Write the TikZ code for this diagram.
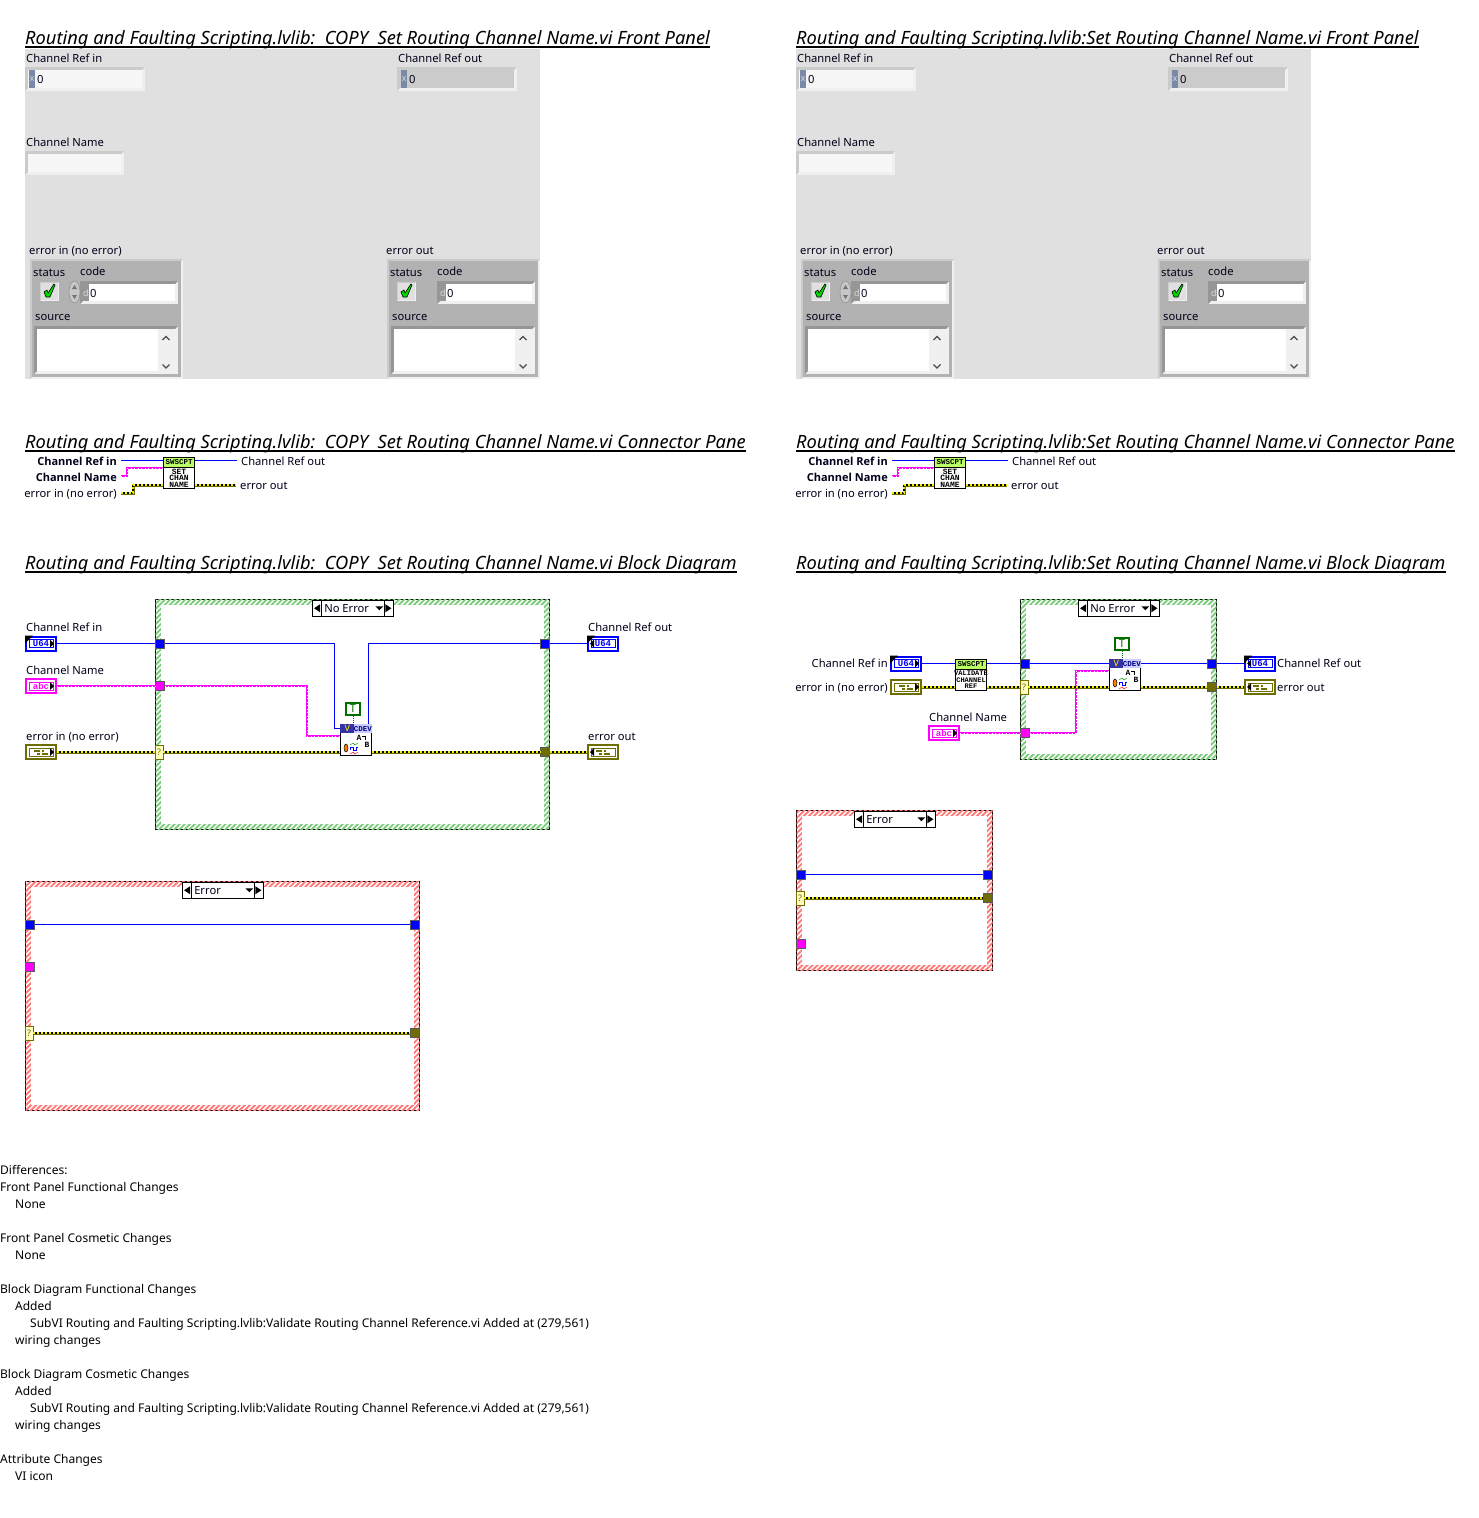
\documentclass[tikz,border=0pt]{standalone}
\usepackage{fontspec}
\setmainfont{Noto Sans}
\newfontfamily\iconfont{Liberation Mono}
\newfontfamily\paneboldfont{Open Sans}
\usetikzlibrary{positioning, fit, patterns.meta}

\definecolor{panelgray}{HTML}{E0E0E0}
\definecolor{panelhi}{HTML}{F0F0F0}
\definecolor{paneledge}{HTML}{CBCBCB}
\definecolor{clustergray}{HTML}{B2B2B2}
\definecolor{clusteredge}{HTML}{969696}
\definecolor{radixblue}{HTML}{7A89A8}
\definecolor{wireblue}{HTML}{0000FF}
\definecolor{wirepink}{HTML}{FF00FF}
\definecolor{errolive}{HTML}{6E6E00}
\definecolor{erryellow}{HTML}{F0F000}
\definecolor{casegreen}{HTML}{7CCB7C}
\definecolor{casered}{HTML}{FF7878}
\definecolor{constgreen}{HTML}{006F00}

% sunken frame: x1,y1,x2,y2, depth, edge colour, face colour
\newcommand{\sunkbox}[7]{%
  \fill[panelhi] (#1,#2) rectangle (#3,#4);
  \fill[#6] (#1,#2) -- (#3,#2) -- ([shift={(-#5,#5)}]#3,#2) -- ([shift={(#5,#5)}]#1,#2)
    -- ([shift={(#5,-#5)}]#1,#4) -- (#1,#4) -- cycle;
  \fill[#7] ([shift={(#5,#5)}]#1,#2) rectangle ([shift={(-#5,-#5)}]#3,#4);
}

% case structure: name, corner, corner, frame style, selector offset, selector text
\newcommand{\casebox}[6]{%
  \node[#4, fit={#2#3}] (#1) {};
  \fill[white] ([shift={(6,6)}]#1.north west) rectangle ([shift={(-6,-6)}]#1.south east);
  \node[selbox, anchor=north west] (#1sel) at ([shift={(#5,1)}]#1.north west) {};
  \node[lbl, anchor=base west] (#1txt) at ([shift={(12,12)}]#1sel.north west) {#6};
  \draw ([xshift=9pt]#1sel.north west) -- ([xshift=9pt]#1sel.south west);
  \draw ([xshift=-9pt]#1sel.north east) -- ([xshift=-9pt]#1sel.south east);
  \fill ([xshift=2pt]#1sel.west) -- ++(6,-4) -- ++(0,8) -- cycle;
  \fill ([xshift=-2pt]#1sel.east) -- ++(-6,-4) -- ++(0,8) -- cycle;
  \fill ([xshift=-18pt,yshift=2pt]#1sel.east) -- ++(8,0) -- ++(-4,4) -- cycle;
}

% property node icon with its constant: name, x, y
\newcommand{\propicon}[3]{%
  \begin{scope}[shift={(#2,#3)}]
    \node[iconbody] (#1) at (0,0) {};
    \node[bannerv, anchor=north west] (#1v) at (#1.north west) {V};
    \node[bannercd, anchor=north east] (#1cdev) at (#1.north east) {CDEV};
    \node[icontext] (#1a) at (3,-2) {A};
    \node[icontext] (#1b) at (11,5) {B};
    \draw[line width=0.8pt] (6,-4) -- (9,-4) -- (9,0);
    \fill[orange, draw=black, line width=0.5pt] (-10,8) ellipse (2 and 4);
    \draw[green!60!black] (-6,5) -- (-3,3) -- (-1,5) -- (2,3);
    \draw[blue] (-6,10) -- (-6,7) -- (-3,7) -- (-3,10) -- (0,10) -- (0,7) -- (2,7);
    \draw[red] (-6,14) -- (-3,12) -- (-1,14) -- (2,12);
    \node[constT, anchor=south] (#1T) at (-3,-24) {T};
    \draw[constwire] (#1T.south) -- (#1T.south |- #1.north);
  \end{scope}
}

\newcommand{\errglyph}{\rule[3pt]{6pt}{2pt}\,\rule[3pt]{2pt}{2pt}\hspace{4pt}\llap{\rule[0pt]{3pt}{2pt}\,\rule[0pt]{6pt}{2pt}}}

\begin{document}
\begin{tikzpicture}[
    x=1pt, y=-1pt,
    % Styles
    lbl/.style={font=\fontsize{11.2}{14}\selectfont, inner sep=0pt, text=black!90!blue},
    boldlbl/.style={lbl, font=\paneboldfont\bfseries\fontsize{11}{14}\selectfont},
    radix/.style={inner sep=0pt, font=\fontsize{9}{9}\selectfont, text=white!85!black},
    sheettitle/.style={font=\fontsize{18.28}{22}\selectfont\itshape, inner sep=0pt, anchor=base west},
    titlerule/.style={line width=1.2pt},
    notes/.style={font=\fontsize{12}{17}\selectfont, inner sep=0pt, align=left},
    selbox/.style={rectangle, draw=black, fill=white, minimum width=81pt, minimum height=16pt, inner sep=0pt},
    hatchgreen/.style={rectangle, draw=black, line width=0.9pt, inner sep=-0.5pt, fill=white,
        postaction={pattern={Lines[angle=45,distance=3.6pt,line width=1.9pt]}, pattern color=casegreen}},
    hatchred/.style={rectangle, draw=black, line width=0.9pt, inner sep=-0.5pt, fill=white,
        postaction={pattern={Lines[angle=45,distance=3.6pt,line width=1.9pt]}, pattern color=casered}},
    iconbody/.style={rectangle, draw=black, fill=white, line width=1pt, minimum size=31pt, inner sep=0pt},
    subtext/.style={inner sep=0pt, align=center, font=\iconfont\bfseries\fontsize{8}{6.5}\selectfont},
    subbanner/.style={rectangle, draw=black, fill=green!45!yellow!60!white, line width=0.8pt, minimum width=31pt,
        minimum height=10pt, inner sep=0pt, font=\iconfont\bfseries\fontsize{7.5}{8}\selectfont},
    bannerv/.style={rectangle, fill=blue!55!black!80, text=yellow, minimum width=14pt, minimum height=9pt,
        inner sep=0pt, font=\bfseries\fontsize{9}{8}\selectfont},
    bannercd/.style={rectangle, fill=blue!20!white, text=blue!50!black, minimum width=18pt, minimum height=9pt,
        inner sep=0pt, font=\iconfont\bfseries\fontsize{7.5}{7}\selectfont},
    icontext/.style={inner sep=0pt, font=\iconfont\bfseries\fontsize{8}{8}\selectfont},
    constT/.style={rectangle, draw=constgreen, fill=white, text=constgreen, line width=2.2pt, minimum width=14pt,
        minimum height=12pt, inner sep=0pt, font=\bfseries\fontsize{11}{11}\selectfont},
    constwire/.style={densely dotted, draw=constgreen, line width=1pt},
    % terminals, the arrow shows the direction of the data
    ctlin/.style={rectangle, draw=#1, text=#1, fill=white, line width=2pt, minimum width=30pt, minimum height=14pt,
        inner sep=0pt, font=\iconfont\bfseries\fontsize{9}{9}\selectfont, path picture={
        \draw[#1, line width=0.8pt] ([shift={(3,-4)}]path picture bounding box.west) rectangle ([shift={(-3,4)}]path picture bounding box.east);
        \fill[black] ([xshift=-2pt]path picture bounding box.east) -- ++(-4,-4) -- ++(0,8) -- cycle;}},
    ctlout/.style={rectangle, draw=#1, text=#1, fill=white, line width=2pt, minimum width=30pt, minimum height=14pt,
        inner sep=0pt, font=\iconfont\bfseries\fontsize{9}{9}\selectfont, path picture={
        \draw[#1, line width=0.8pt] ([shift={(3,-4)}]path picture bounding box.west) rectangle ([shift={(-3,4)}]path picture bounding box.east);
        \fill[black] ([xshift=2pt]path picture bounding box.west) -- ++(4,-4) -- ++(0,8) -- cycle;}},
    % tunnels
    tunnel/.style={rectangle, draw=black!65, line width=0.8pt, minimum size=9pt, inner sep=0pt, fill=#1},
    tunask/.style={rectangle, draw=errolive, line width=0.8pt, fill=yellow!25!white, minimum width=8pt, minimum height=14pt,
        inner sep=0pt, text=errolive, font=\fontsize{9}{9}\selectfont},
    % wires
    bluewire/.style={draw=wireblue, line width=1pt},
    pinkwire/.style={draw=wirepink, line width=2.2pt, postaction={draw=white, line width=0.7pt, dash pattern=on 1pt off 2.5pt}},
    errwire/.style={draw=errolive, line width=3pt,
        postaction={draw=black, line width=1.2pt},
        postaction={draw=erryellow, line width=1.2pt, dash pattern=on 2pt off 2pt}}
]

\useasboundingbox (0,0) rectangle (1479,1518);

% Both VI versions share front panel and connector pane
\foreach \p/\dx/\vname in {a/0/{Routing and Faulting Scripting.lvlib:\ \ COPY\ \ Set Routing Channel Name.vi},
                           b/771/{Routing and Faulting Scripting.lvlib:Set Routing Channel Name.vi}} {
\begin{scope}[xshift=\dx pt]

% Titles
\foreach \t/\ty/\tail in {fp/44/Front Panel, cp/448/Connector Pane, bd/569/Block Diagram} {
    \node[sheettitle] (\p-\t) at (25,\ty) {\vname\ \tail};
    \draw[titlerule] ([yshift=-3pt]\p-\t.base west) -- ([yshift=-3pt]\p-\t.base east);
}

% Front panel
\fill[panelgray] (25,49) rectangle (540,379);
\node[lbl, anchor=base west] (\p-frefin) at (26,62) {Channel Ref in};
\sunkbox{25}{67}{145}{91}{3}{paneledge}{white!97!black}
\fill[radixblue] (29,70) rectangle (35,88);
\node[radix] (\p-frefinx) at (32,79) {x};
\node[lbl, anchor=base west] (\p-frefinval) at (37,83) {0};
\node[lbl, anchor=base west] (\p-frefout) at (398,62) {Channel Ref out};
\sunkbox{397}{67}{517}{91}{3}{paneledge}{paneledge}
\fill[radixblue] (401,70) rectangle (407,88);
\node[radix] (\p-frefoutx) at (404,79) {x};
\node[lbl, anchor=base west] (\p-frefoutval) at (409,83) {0};
\node[lbl, anchor=base west] (\p-fname) at (26,146) {Channel Name};
\sunkbox{25}{151}{124}{175}{3}{paneledge}{white!97!black}

% Error clusters
\foreach \cl/\cx/\clabel in {in/0/{error in (no error)}, out/357/{error out}} {
\begin{scope}[xshift=\cx pt]
    \node[lbl, anchor=base west] (\p-\cl-err) at (29,254) {\clabel};
    \sunkbox{30}{259}{183}{379}{2}{paneledge}{clustergray}
    \node[lbl, anchor=base west] (\p-\cl-status) at (33,276) {status};
    \node[lbl, anchor=base west] (\p-\cl-code) at (80,275) {code};
    \node[lbl, anchor=base west] (\p-\cl-source) at (35,320) {source};
    \sunkbox{40}{282}{59}{301}{1}{white!80!black}{panelgray}
    \filldraw[fill=green!85!black, draw=black, line width=0.6pt] (44,292) -- (47,290) -- (48,293) -- (54,284) -- (55,285) -- (50,297) -- (46,297) -- cycle;
    \sunkbox{80}{281}{178}{304}{3}{clusteredge}{white}
    \fill[clusteredge] (83,284) rectangle (89,301);
    \node[radix] (\p-\cl-d) at (86,293) {d};
    \node[lbl, anchor=base west] (\p-\cl-codeval) at (90,297) {0};
    \sunkbox{34}{326}{178}{374}{3}{clusteredge}{white}
    \fill[panelhi] (158,329) rectangle (175,371);
    \draw[black!70, line width=1.1pt] (162.5,340) -- (166,336.5) -- (169.5,340);
    \draw[black!70, line width=1.1pt] (162.5,364.5) -- (166,368) -- (169.5,364.5);
\end{scope}
}
% spinner only on the control
\filldraw[fill=black!22, draw=black!45, line width=0.5pt] (74.5,292) ellipse (5.5 and 11);
\fill[black!55] (74.5,285) -- (72,289) -- (77,289) -- cycle;
\fill[black!55] (74.5,299) -- (72,295) -- (77,295) -- cycle;

% Connector pane
\node[iconbody] (\p-conn) at (179,473) {};
\node[subbanner, anchor=north] (\p-connb) at (\p-conn.north) {SWSCPT};
\node[subtext, anchor=north] (\p-connt) at ([yshift=-1pt]\p-connb.south) {SET\\CHAN\\NAME};
\node[boldlbl, anchor=base east] (\p-crefin) at (117,465) {Channel Ref in};
\node[boldlbl, anchor=base east] (\p-cname) at (117,481) {Channel Name};
\node[lbl, anchor=base east] (\p-cerrin) at (117,497) {error in (no error)};
\node[lbl, anchor=base west] (\p-crefout) at (241,465) {Channel Ref out};
\node[lbl, anchor=base west] (\p-cerrout) at (240,489) {error out};
\draw[bluewire] ([shift={(4,-4.5)}]\p-crefin.base east) -- ([yshift=12.5pt]\p-conn.west);
\draw[bluewire] ([yshift=12.5pt]\p-conn.east) -- ([shift={(-4,-4.5)}]\p-crefout.base west);
\draw[pinkwire] ([shift={(4,-5)}]\p-cname.base east) -- ++(6,0) |- ([yshift=5pt]\p-conn.west);
\draw[errwire] ([shift={(4,-4)}]\p-cerrin.base east) -- ++(12,0) |- ([yshift=-12pt]\p-conn.west);
\draw[errwire] ([yshift=-12pt]\p-conn.east) -- ([shift={(-4,-4)}]\p-cerrout.base west);

\end{scope}
}

% Left block diagram, No Error case
\casebox{acase}{(155,599)}{(550,830)}{hatchgreen}{157}{No Error}
\node[lbl, anchor=base west] (arefinl) at (26,631) {Channel Ref in};
\node[ctlin=wireblue] (arefin) at (41,643.5) {U64};
\node[lbl, anchor=base west] (anamel) at (26,674) {Channel Name};
\node[ctlin=wirepink] (aname) at (41,686) {abc};
\node[lbl, anchor=base west] (aerrinl) at (26,740) {error in (no error)};
\node[ctlin=errolive] (aerrin) at (41,752) {\errglyph};
\node[lbl, anchor=base west] (arefoutl) at (588,631) {Channel Ref out};
\node[ctlout=wireblue] (arefout) at (603,643.5) {U64};
\node[lbl, anchor=base west] (aerroutl) at (588,740) {error out};
\node[ctlout=errolive] (aerrout) at (603,752) {\errglyph};
\fill (arefin.north west) -- ++(8,0) -- ++(-8,8) -- cycle;
\fill (arefout.north west) -- ++(8,0) -- ++(-8,8) -- cycle;

\node[tunnel=blue] (atun1) at (160,643.5) {};
\node[tunnel=wirepink] (atun2) at (160,686) {};
\node[tunask] (atun3) at (159,752) {?};
\node[tunnel=blue] (atun4) at (545,643.5) {};
\node[tunnel=errolive] (atun5) at (545,752) {};
\propicon{aprop}{356}{740}

\draw[bluewire] (arefin) -- (atun1);
\draw[bluewire] (atun1.east) -- ++(170,0) |- ([yshift=11.5pt]aprop.west);
\draw[bluewire] ([xshift=12pt]aprop.north) |- (atun4.west);
\draw[bluewire] (atun4) -- (arefout);
\draw[pinkwire] (aname) -- (atun2);
\draw[pinkwire] (atun2.east) -- ++(142,0) |- ([yshift=4pt]aprop.west);
\draw[errwire] (aerrin) -- (atun3);
\draw[errwire] (atun3.east) -- ([yshift=-12pt]aprop.west);
\draw[errwire] ([yshift=-12pt]aprop.east) -- (atun5.west);
\draw[errwire] (atun5) -- (aerrout);

% Left block diagram, Error case
\casebox{ecase}{(25,881)}{(420,1111)}{hatchred}{157}{Error}
\node[tunnel=blue] (etun1) at (30,924.5) {};
\node[tunnel=wirepink] (etun2) at (30,967) {};
\node[tunask] (etun3) at (29,1033) {?};
\node[tunnel=blue] (etun4) at (415,924.5) {};
\node[tunnel=errolive] (etun5) at (415,1033) {};
\draw[bluewire] (etun1) -- (etun4);
\draw[errwire] (etun3) -- (etun5);

% Right block diagram, No Error case
\casebox{bcase}{(1020,599)}{(1217,760)}{hatchgreen}{58}{No Error}
\node[lbl, anchor=base east] (brefinl) at (888,667) {Channel Ref in};
\node[ctlin=wireblue] (brefin) at (906,663.5) {U64};
\node[lbl, anchor=base east] (berrinl) at (888,691) {error in (no error)};
\node[ctlin=errolive] (berrin) at (906,687) {\errglyph};
\node[lbl, anchor=base west] (bnamel) at (929,721) {Channel Name};
\node[ctlin=wirepink] (bname) at (944,733) {abc};
\node[lbl, anchor=base west] (brefoutl) at (1277,667) {Channel Ref out};
\node[ctlout=wireblue] (brefout) at (1260,663.5) {U64};
\node[lbl, anchor=base west] (berroutl) at (1277,691) {error out};
\node[ctlout=errolive] (berrout) at (1260,687) {\errglyph};
\fill (brefin.north west) -- ++(8,0) -- ++(-8,8) -- cycle;
\fill (brefout.north west) -- ++(8,0) -- ++(-8,8) -- cycle;

\node[iconbody] (bvalid) at (971,675) {};
\node[subbanner, anchor=north] (bvalidb) at (bvalid.north) {SWSCPT};
\node[subtext, font=\iconfont\bfseries\fontsize{7}{6.5}\selectfont, anchor=north] (bvalidt) at ([yshift=-1pt]bvalidb.south) {VALIDATE\\CHANNEL\\REF};
\node[tunnel=blue] (btun1) at (1025,663.5) {};
\node[tunask] (btun3) at (1024,687) {?};
\node[tunnel=wirepink] (btun2) at (1025,733) {};
\node[tunnel=blue] (btun4) at (1212,663.5) {};
\node[tunnel=errolive] (btun5) at (1212,687) {};
\propicon{bprop}{1125}{675}

\draw[bluewire] (brefin) -- ([yshift=11.5pt]bvalid.west);
\draw[bluewire] ([yshift=11.5pt]bvalid.east) -- (btun1);
\draw[bluewire] (btun1) -- ([yshift=11.5pt]bprop.west);
\draw[bluewire] ([yshift=11.5pt]bprop.east) -- (btun4);
\draw[bluewire] (btun4) -- (brefout);
\draw[pinkwire] (bname) -- (btun2);
\draw[pinkwire] (btun2.east) -- ++(46,0) |- ([yshift=4pt]bprop.west);
\draw[errwire] (berrin) -- ([yshift=-12pt]bvalid.west);
\draw[errwire] ([yshift=-12pt]bvalid.east) -- (btun3);
\draw[errwire] (btun3) -- ([yshift=-12pt]bprop.west);
\draw[errwire] ([yshift=-12pt]bprop.east) -- (btun5);
\draw[errwire] (btun5) -- (berrout);

% Right block diagram, Error case
\casebox{fcase}{(796,810)}{(993,971)}{hatchred}{58}{Error}
\node[tunnel=blue] (ftun1) at (801,874.5) {};
\node[tunnel=wirepink] (ftun2) at (801,944) {};
\node[tunask] (ftun3) at (800,898) {?};
\node[tunnel=blue] (ftun4) at (988,874.5) {};
\node[tunnel=errolive] (ftun5) at (988,898) {};
\draw[bluewire] (ftun1) -- (ftun4);
\draw[errwire] (ftun3) -- (ftun5);

% Differences list
\node[notes, anchor=north west] (diffnotes) at (0,1165) {
    Differences:\\
    Front Panel Functional Changes\\
    \hspace*{15pt}None\\
    \mbox{}\\
    Front Panel Cosmetic Changes\\
    \hspace*{15pt}None\\
    \mbox{}\\
    Block Diagram Functional Changes\\
    \hspace*{15pt}Added\\
    \hspace*{30pt}SubVI Routing and Faulting Scripting.lvlib:Validate Routing Channel Reference.vi Added at (279,561)\\
    \hspace*{15pt}wiring changes\\
    \mbox{}\\
    Block Diagram Cosmetic Changes\\
    \hspace*{15pt}Added\\
    \hspace*{30pt}SubVI Routing and Faulting Scripting.lvlib:Validate Routing Channel Reference.vi Added at (279,561)\\
    \hspace*{15pt}wiring changes\\
    \mbox{}\\
    Attribute Changes\\
    \hspace*{15pt}VI icon
};

\end{tikzpicture}
\end{document}
